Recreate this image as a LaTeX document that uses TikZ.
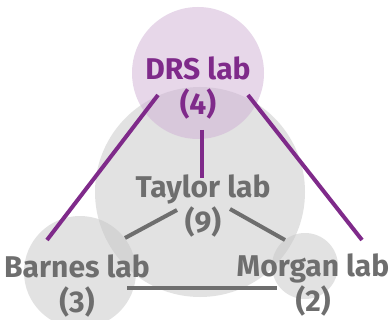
\documentclass[tikz,border=0pt]{standalone}
\usepackage{fontspec}
\setmainfont{Fira Sans}
\definecolor{drspurple}{RGB}{127,42,138}
\definecolor{labgray}{RGB}{110,110,110}
\definecolor{circgray}{RGB}{199,199,199}
\definecolor{circpurple}{RGB}{208,176,213}
\tikzset{
  graycirc/.style={circle, fill=circgray, fill opacity=0.5, draw=none, inner sep=0pt},
  purpcirc/.style={circle, fill=circpurple, fill opacity=0.5, draw=none, inner sep=0pt},
  labtext/.style={align=center, font=\bfseries\fontsize{30}{35}\selectfont, inner sep=0pt},
  purpline/.style={draw=drspurple, line width=4pt},
  grayline/.style={draw=labgray, line width=4pt},
}
\begin{document}
\begin{tikzpicture}[x=1pt,y=-1pt]
\useasboundingbox (0,0) rectangle (390,320);
\fill[white] (0,0) rectangle (390,320);
% circles
\node[graycirc, minimum size=210pt] (taylorc) at (200,192) {};
\node[graycirc, minimum size=112pt] (barnesc) at (80,272) {};
\node[graycirc, minimum size=66pt] (morganc) at (305,266) {};
\node[purpcirc, minimum size=132pt] (drsc) at (198,73) {};
% labels
\node[labtext, text=drspurple] (drs) at (198,88) {DRS lab\\(4)};
\node[labtext, text=labgray] (taylor) at (203,206) {Taylor lab\\(9)};
\node[labtext, text=labgray] (barnes) at (77,286) {Barnes lab\\(3)};
\node[labtext, text=labgray] (morgan) at (313,285) {Morgan lab\\(2)};
% connector end points
\coordinate (dL) at (158,95);
\coordinate (dR) at (248,95);
\coordinate (dB) at (202,130);
\coordinate (tT) at (202,178);
\coordinate (bT) at (47,240);
\coordinate (mT) at (362,240);
\coordinate (tL) at (177,210);
\coordinate (tR) at (230,209);
\coordinate (bR) at (125,238);
\coordinate (mL) at (285,240);
\coordinate (bB) at (127,288);
\coordinate (mB) at (277,288);
% connectors
\draw[purpline] (dL) -- (bT);
\draw[purpline] (dR) -- (mT);
\draw[purpline] (dB) -- (tT);
\draw[grayline] (tL) -- (bR);
\draw[grayline] (tR) -- (mL);
\draw[grayline] (bB) -- (mB);
\end{tikzpicture}
\end{document}
